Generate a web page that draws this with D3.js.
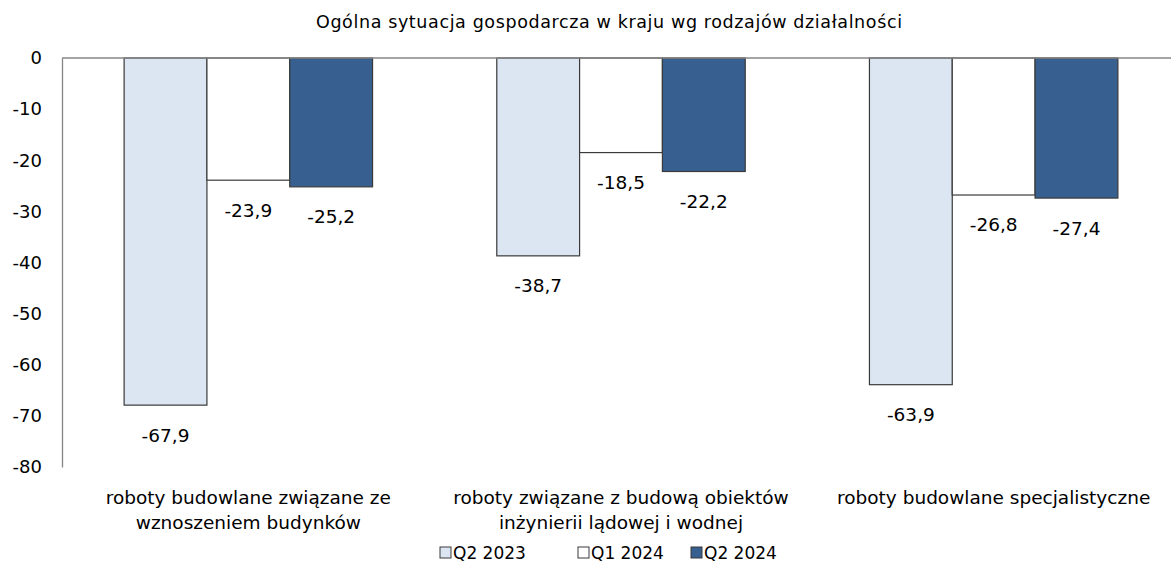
<!DOCTYPE html>
<html>
<head>
<meta charset="utf-8">
<script src="https://cdn.jsdelivr.net/npm/d3@7"></script>
<style>
  html, body { margin: 0; padding: 0; background: #fff; }
  svg { display: block; }
</style>
</head>
<body>
<svg id="chart" width="1171" height="573"></svg>
<script>
// Categories (each label split into lines)
const categories = [
  ["roboty budowlane związane ze", "wznoszeniem budynków"],
  ["roboty związane z budową obiektów", "inżynierii lądowej i wodnej"],
  ["roboty budowlane specjalistyczne"]
];
const seriesNames = ["Q2 2023", "Q1 2024", "Q2 2024"];
const q2_2023 = [-67.9, -38.7, -63.9];
const q1_2024 = [-23.9, -18.5, -26.8];
const q2_2024 = [-25.2, -22.2, -27.4];
const yTicks = [0, -10, -20, -30, -40, -50, -60, -70, -80];
const chartTitle = "Ogólna sytuacja gospodarcza w kraju wg rodzajów działalności";

const seriesValues = [q2_2023, q1_2024, q2_2024];
const fills = ["#dce6f2", "#ffffff", "#375f8f"];
const labelFont = "'DejaVu Sans', Verdana, sans-serif";

const svg = d3.select("#chart");
const plotLeft = 62, plotRight = 1180, plotTop = 58, plotBottom = 467;

const x0 = d3.scaleBand().domain(d3.range(categories.length)).range([plotLeft, plotRight]).paddingInner(0).paddingOuter(0);
const x1 = d3.scaleBand().domain(d3.range(seriesNames.length)).range([0, x0.bandwidth()]).paddingInner(0).paddingOuter(0.75);
const y = d3.scaleLinear().domain([0, -80]).range([plotTop, plotBottom]);

// Title
svg.append("text")
  .attr("x", 609).attr("y", 28)
  .attr("text-anchor", "middle")
  .attr("font-family", labelFont)
  .attr("font-size", 17.5)
  .attr("textLength", 586)
  .attr("lengthAdjust", "spacing")
  .attr("fill", "#000")
  .text(chartTitle);

// Y axis tick labels
const yAxis = d3.axisLeft(y).tickValues(yTicks).tickSize(0).tickPadding(20)
  .tickFormat(d => d3.format("d")(d).replace("−", "-"));
const gy = svg.append("g").attr("transform", `translate(${plotLeft},0)`).call(yAxis);
gy.select(".domain").attr("stroke", "#868686").attr("stroke-width", 1.3);
gy.selectAll("text")
  .attr("font-family", labelFont)
  .attr("font-size", 18)
  .attr("fill", "#000");

// Bars
const groups = svg.append("g").selectAll("g")
  .data(categories.map((c, i) => i))
  .join("g")
  .attr("transform", i => `translate(${x0(i)},0)`);

groups.selectAll("rect")
  .data(i => seriesValues.map((vals, s) => ({ s, v: vals[i] })))
  .join("rect")
  .attr("x", d => x1(d.s))
  .attr("y", y(0))
  .attr("width", x1.bandwidth())
  .attr("height", d => y(d.v) - y(0))
  .attr("fill", d => fills[d.s])
  .attr("stroke", "#3a3a3a")
  .attr("stroke-width", 1.2);

// Value labels below each bar
groups.selectAll("text.val")
  .data(i => seriesValues.map((vals, s) => ({ s, v: vals[i] })))
  .join("text")
  .attr("class", "val")
  .attr("x", d => x1(d.s) + x1.bandwidth() / 2)
  .attr("y", d => y(d.v) + 30)
  .attr("dy", "0.35em")
  .attr("text-anchor", "middle")
  .attr("font-family", labelFont)
  .attr("font-size", 18.5)
  .attr("fill", "#000")
  .text(d => d3.format(".1f")(d.v).replace("−", "-").replace(".", ","));

// Zero line
svg.append("line")
  .attr("x1", plotLeft).attr("x2", plotRight)
  .attr("y1", y(0)).attr("y2", y(0))
  .attr("stroke", "#868686").attr("stroke-width", 1.3);

// Category labels
categories.forEach((lines, i) => {
  const t = svg.append("text")
    .attr("text-anchor", "middle")
    .attr("font-family", labelFont)
    .attr("font-size", 18.5)
    .attr("fill", "#000");
  lines.forEach((ln, k) => {
    t.append("tspan")
      .attr("x", x0(i) + x0.bandwidth() / 2)
      .attr("y", 504 + k * 25)
      .text(ln);
  });
});

// Legend
const legendX = [440, 578, 691];
const lg = svg.append("g").selectAll("g")
  .data(seriesNames.map((n, s) => ({ n, s })))
  .join("g")
  .attr("transform", d => `translate(${legendX[d.s]},553)`);
lg.append("rect")
  .attr("x", 0).attr("y", -6).attr("width", 11).attr("height", 11)
  .attr("fill", d => fills[d.s])
  .attr("stroke", "#3a3a3a").attr("stroke-width", 1);
lg.append("text")
  .attr("x", 13).attr("y", 0).attr("dy", "0.35em")
  .attr("font-family", labelFont)
  .attr("font-size", 17)
  .attr("fill", "#000")
  .text(d => d.n);
</script>
</body>
</html>
